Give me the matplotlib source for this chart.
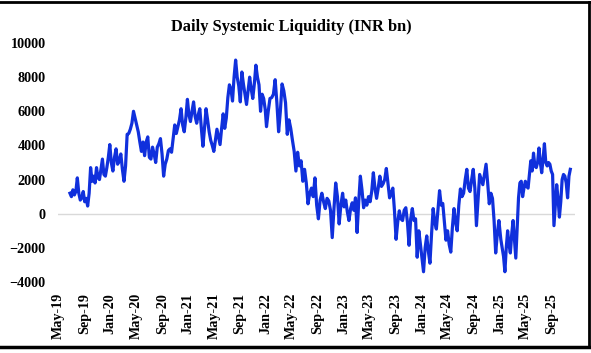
import numpy as np
import pandas as pd
import matplotlib
matplotlib.use("Agg")
import matplotlib.pyplot as plt
import matplotlib.dates as mdates
from matplotlib.lines import Line2D

PLOT_TITLE = "Daily Systemic Liquidity (INR bn)"
LINE_COLOR = "#1030dc"
ZERO_COLOR = "#d9d9d9"
FONT = "Liberation Serif"

# values, grouped by calendar year (INR bn)
liq_2019 = [1200, 1000, 1400, 1100, 1300, 2100, 1200, 800, 930, 1300, 700, 900,
            450, 1200, 2700, 1900, 2200, 1800, 2700, 2100, 2000, 2600, 3200, 2300,
            2200, 2700, 3300, 4050]
liq_2020 = [3000, 2500, 3300, 3800, 2900, 3100, 3500, 2600, 1900, 2800, 4650, 4700,
            4950, 5300, 6000, 5600, 5200, 4800, 4200, 3650, 4200, 3400, 4200, 4500,
            3300, 3200, 3900, 3500, 3000, 3900, 4100, 4400, 3500, 2200, 2900, 3200,
            3700, 3800, 3600, 4400, 5200, 4700, 5100, 5500, 6150, 5200, 4800, 5600,
            6700]
liq_2021 = [5800, 5400, 6000, 6550, 5700, 5300, 5800, 6150, 5000, 3950, 5000, 6150,
            5500, 4800, 4300, 4000, 3650, 4300, 4950, 4500, 4050, 5000, 5850, 5000,
            5600, 6800, 7550, 7300, 6600, 8000, 9000, 8000, 7500, 6550, 8300, 7600,
            7000, 6400, 7200, 8000, 7300, 6750, 7600, 8700, 8000, 7550, 6000, 7000,
            6750, 6100]
liq_2022 = [5100, 6000, 6750, 6800, 7000, 7850, 6500, 4800, 6000, 7600, 7200, 6500,
            4650, 5500, 5000, 4300, 3650, 2500, 3600, 2800, 3100, 1900, 2600, 1800,
            580, 1200, 1500, 1000, 2100, 500, -300, 800, 1200, 700, 300, 900,
            750, 200, -1400, 300, 1800, 1000, -600, 500, 1200]
liq_2023 = [400, 800, 100, -400, 300, 640, 200, 930, -1100, 700, 2200, 1400,
            350, 800, 500, 1000, 700, 1300, 2400, 1500, 900, 1500, 2200, 1600,
            1750, 2000, 2650, 1800, 930, 1200, 1500, 200, -1500, -500, 170, -300,
            -400, 200, 350, -500, -1850, -300, 300, -400, -300, -2550, -1000, -1800]
liq_2024 = [-2600, -3400, -2000, -1300, -2200, -2900, -1200, 300, -500, -900, 200, 1350,
            500, 600, -500, -1550, -1000, -1800, -2250, -800, 300, -500, -1000, 500,
            1450, 1000, 1200, 2000, 2600, 1500, 1300, 2000, 2600, 1500, -700, 800,
            2300, 2000, 1700, 2300, 2900, 1800, 580, 1200, 900, -400, -2300, -1200,
            -400]
liq_2025 = [-1500, -2000, -2500, -3400, -2000, -1000, -1800, -2300, -1200, -400, -1500, -2600,
            -800, 930, 1800, 1900, 1000, 1500, 1900, 1600, 1500, 2300, 3100, 2500,
            3550, 2800, 2700, 3000, 3850, 3000, 2400, 3200, 4100, 3000, 2800, 3000,
            2900, 2500, 2300, -700, 500, 1700, 900, -200, 700, 2000, 2300, 2200,
            1800, 930, 2200, 2600]

year_spans = [
  ("2019-06-26", "2019-12-30", liq_2019),
  ("2020-01-06", "2020-12-28", liq_2020),
  ("2021-01-04", "2021-12-28", liq_2021),
  ("2022-01-03", "2022-12-26", liq_2022),
  ("2023-01-02", "2023-12-26", liq_2023),
  ("2024-01-02", "2024-12-28", liq_2024),
  ("2025-01-06", "2025-11-28", liq_2025),
]

dates = []
values = []
for start, end, vals in year_spans:
  dates.extend(pd.date_range(start, end, periods=len(vals)))
  values.extend(vals)

fig = plt.figure(figsize=(5.91, 3.53), dpi=100)
ax = fig.add_axes([58 / 591, 1 - 282 / 353, (575 - 58) / 591, (282 - 43) / 353])

ax.axhline(0, color=ZERO_COLOR, lw=1.0, zorder=1)
ax.plot(dates, values, color=LINE_COLOR, lw=2.3, solid_joinstyle="round", zorder=2)

ax.set_ylim(-4000, 10000)
ax.set_yticks(np.arange(-4000, 10001, 2000))
ax.set_xlim(pd.Timestamp("2019-05-01"), pd.Timestamp("2025-12-20"))
ax.xaxis.set_major_locator(mdates.MonthLocator(bymonth=[1, 5, 9]))
ax.xaxis.set_major_formatter(mdates.DateFormatter("%b-%y"))

for s in ax.spines.values():
  s.set_visible(False)
ax.tick_params(axis="both", length=0)
ax.tick_params(axis="y", pad=9)
ax.tick_params(axis="x", pad=8)
for lab in ax.get_yticklabels():
  lab.set_fontfamily(FONT)
  lab.set_fontweight("bold")
  lab.set_fontsize(10.2)
for lab in ax.get_xticklabels():
  lab.set_fontfamily(FONT)
  lab.set_fontweight("bold")
  lab.set_fontsize(10.2)
  lab.set_rotation(90)

fig.text(291 / 591, 1 - 27 / 353, PLOT_TITLE, ha="center", va="center",
         fontfamily=FONT, fontweight="bold", fontsize=11.8)

# outer frame of the screenshot (top, right, bottom)
fig.add_artist(Line2D([0, 1], [1 - 1.5 / 353] * 2, color="black", lw=2, transform=fig.transFigure))
fig.add_artist(Line2D([0, 1], [1 - 347 / 353] * 2, color="black", lw=2.5, transform=fig.transFigure))
fig.add_artist(Line2D([589 / 591] * 2, [1 - 347 / 353, 1 - 1.5 / 353], color="black", lw=2, transform=fig.transFigure))

fig.savefig("out.png", dpi=100)
